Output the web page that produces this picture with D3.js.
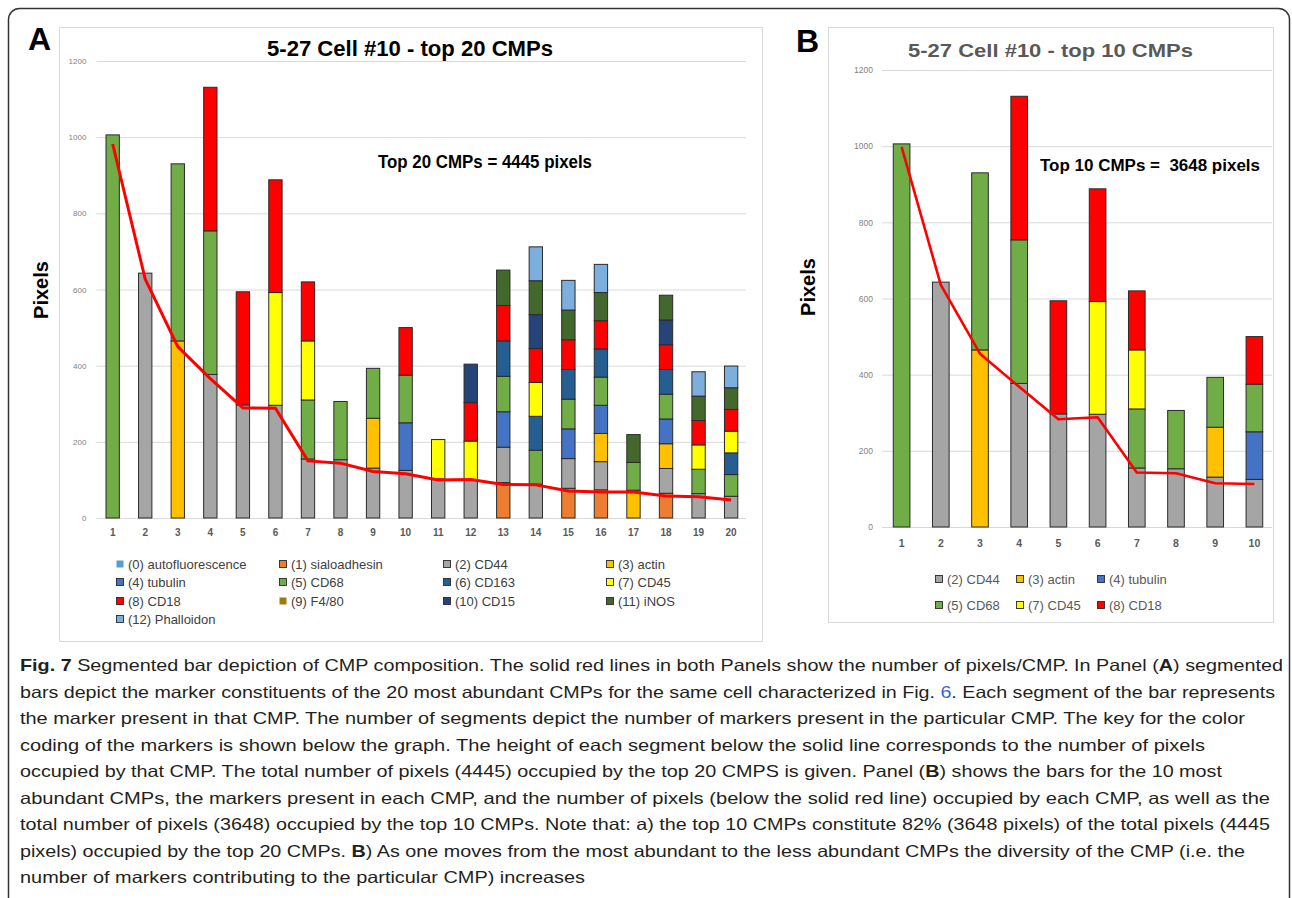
<!DOCTYPE html>
<html>
<head>
<meta charset="utf-8">
<script src="https://cdn.jsdelivr.net/npm/d3@7"></script>
<style>
  body { margin: 0; background: #fff; }
  svg { display: block; }
  .cap { font-family: "Liberation Sans Narrow", "Liberation Sans", Arial, sans-serif; font-size: 16.5px; fill: #231f20; }
</style>
</head>
<body>
<svg id="fig" width="1292" height="898"></svg>
<script>
// marker key
const markerNames = ["(0) autofluorescence", "(1) sialoadhesin", "(2) CD44", "(3) actin",
  "(4) tubulin", "(5) CD68", "(6) CD163", "(7) CD45", "(8) CD18", "(9) F4/80",
  "(10) CD15", "(11) iNOS", "(12) Phalloidon"];
const markerColors = ["#5b9bd5", "#ed7d31", "#a5a5a5", "#ffc000", "#4472c4", "#70ad47",
  "#255e91", "#ffff00", "#ff0000", "#9e7c0c", "#264478", "#43682b", "#7cafdd"];

// top 20 CMPs: pixels per CMP (segment height) and markers in each CMP
const cmpA = ["1","2","3","4","5","6","7","8","9","10","11","12","13","14","15","16","17","18","19","20"];
const pixelsA = [1006, 643, 465, 377, 297, 296, 155, 153, 131, 125, 103, 101, 93, 89, 78, 74, 73, 65, 64, 57];
const markersA = [[5], [2], [3, 5], [2, 5, 8], [2, 8], [2, 7, 8], [2, 5, 7, 8], [2, 5], [2, 3, 5], [2, 4, 5, 8],
  [2, 7], [2, 7, 8, 10], [1, 2, 4, 5, 6, 8, 11], [2, 5, 6, 7, 8, 10, 11, 12], [1, 2, 4, 5, 6, 8, 11, 12],
  [1, 2, 3, 4, 5, 6, 8, 11, 12], [3, 5, 11], [1, 2, 3, 4, 5, 6, 8, 10, 11], [2, 5, 7, 8, 11, 12], [2, 5, 6, 7, 8, 11, 12]];
const redLineA = [982, 627, 450, 366, 289, 288, 150, 144, 122, 116, 100, 101, 88, 87, 71, 68, 68, 58, 56, 47];
const legendA = [0, 1, 2, 3, 4, 5, 6, 7, 8, 9, 10, 11, 12];

// top 10 CMPs
const cmpB = ["1","2","3","4","5","6","7","8","9","10"];
const pixelsB = [1006, 643, 465, 377, 297, 296, 155, 153, 131, 125];
const markersB = [[5], [2], [3, 5], [2, 5, 8], [2, 8], [2, 7, 8], [2, 5, 7, 8], [2, 5], [2, 3, 5], [2, 4, 5, 8]];
const redLineB = [998, 636, 455, 368, 283, 288, 143, 141, 115, 113];
const legendB = [2, 3, 4, 5, 7, 8];

const yTicks = [0, 200, 400, 600, 800, 1000, 1200];

const svg = d3.select("#fig");

// outer frame
svg.append("rect")
  .attr("x", 8.5).attr("y", 8.5).attr("width", 1281).attr("height", 960)
  .attr("rx", 11).attr("fill", "none").attr("stroke", "#333").attr("stroke-width", 1.5);

function drawPanel(p) {
  const g = svg.append("g");

  g.append("rect")
    .attr("x", p.box[0] + 0.5).attr("y", p.box[1] + 0.5)
    .attr("width", p.box[2]).attr("height", p.box[3])
    .attr("fill", "#fff").attr("stroke", "#d9d9d9");

  const x = d3.scaleBand().domain(p.cats).range(p.xRange)
    .paddingInner(p.padIn).paddingOuter(p.padIn / 2);
  const y = d3.scaleLinear().domain([0, 1200]).range(p.yRange);

  // gridlines + y labels
  const yAxis = g.append("g")
    .attr("transform", `translate(${p.xRange[0]},0)`)
    .call(d3.axisLeft(y).tickValues(yTicks).tickFormat(d3.format("d"))
      .tickSize(-(p.gridEnd - p.xRange[0])).tickPadding(p.yPad));
  yAxis.select(".domain").remove();
  yAxis.selectAll("line").attr("stroke", "#d9d9d9");
  yAxis.selectAll("text")
    .attr("fill", "#7f7f7f")
    .style("font-family", "'Liberation Sans', Arial, sans-serif")
    .style("font-size", p.yFont + "px");

  // x labels
  const xAxis = g.append("g")
    .attr("transform", `translate(0,${p.yRange[0]})`)
    .call(d3.axisBottom(x).tickSize(0).tickPadding(p.xPad));
  xAxis.select(".domain").remove();
  xAxis.selectAll("text")
    .attr("fill", "#595959")
    .style("font-family", "'Liberation Sans', Arial, sans-serif")
    .style("font-weight", "bold")
    .style("font-size", p.xFont + "px");

  // stacked segments
  const segs = [];
  p.cats.forEach((c, i) => {
    p.markers[i].forEach((m, k) => {
      segs.push({ cat: c, m: m, y0: k * p.pixels[i], y1: (k + 1) * p.pixels[i] });
    });
  });
  g.append("g").selectAll("rect").data(segs).join("rect")
    .attr("x", d => x(d.cat))
    .attr("width", x.bandwidth())
    .attr("y", d => y(d.y1))
    .attr("height", d => y(d.y0) - y(d.y1))
    .attr("fill", d => markerColors[d.m])
    .attr("stroke", "#2b2b2b")
    .attr("stroke-width", 1);

  // pixels per CMP line
  const line = d3.line()
    .x((d, i) => x(p.cats[i]) + x.bandwidth() / 2)
    .y(d => y(d));
  g.append("path").datum(p.redLine)
    .attr("d", line)
    .attr("fill", "none")
    .attr("stroke", "#ff0000")
    .attr("stroke-width", p.lineW)
    .attr("stroke-linejoin", "round");

  // titles
  g.append("text")
    .attr("x", p.title.x).attr("y", p.title.y)
    .attr("textLength", p.title.w).attr("lengthAdjust", "spacingAndGlyphs")
    .style("font-family", p.title.font)
    .style("font-weight", "bold").style("font-size", p.title.size + "px")
    .attr("fill", p.title.color)
    .text(p.title.text);

  g.append("text")
    .attr("x", p.note.x).attr("y", p.note.y)
    .attr("textLength", p.note.w).attr("lengthAdjust", "spacingAndGlyphs")
    .style("font-family", p.note.font)
    .style("font-weight", "bold").style("font-size", p.note.size + "px")
    .style("white-space", "pre")
    .attr("fill", "#000")
    .text(p.note.text);

  g.append("text")
    .attr("transform", `translate(${p.yLabel[0]},${p.yLabel[1]}) rotate(-90)`)
    .attr("text-anchor", "middle")
    .style("font-family", "'Liberation Sans', Arial, sans-serif")
    .style("font-weight", "bold").style("font-size", "20px")
    .text("Pixels");

  g.append("text")
    .attr("x", p.letter[0]).attr("y", p.letter[1])
    .style("font-family", "'Liberation Sans', Arial, sans-serif")
    .style("font-weight", "bold").style("font-size", "32px")
    .text(p.letter[2]);

  // legend
  const lg = g.append("g").selectAll("g").data(p.legend).join("g")
    .attr("transform", (d, i) => `translate(${p.legCols[i % p.legCols.length]},${p.legRows[Math.floor(i / p.legCols.length)]})`);
  lg.append("rect")
    .attr("x", 0.5).attr("y", -3.5).attr("width", 7).attr("height", 7)
    .attr("fill", d => markerColors[d])
    .attr("stroke", d => (d === 0 || d === 9) ? "none" : "#2b2b2b")
    .attr("stroke-width", 0.9);
  lg.append("text")
    .attr("x", p.legText).attr("y", 0).attr("dy", "0.35em")
    .style("font-family", p.legFont)
    .style("font-size", p.legSize + "px")
    .attr("fill", p.legColor)
    .text(d => markerNames[d]);
}

drawPanel({
  box: [59, 27, 703, 614],
  cats: cmpA, pixels: pixelsA, markers: markersA, redLine: redLineA,
  xRange: [96.4, 747.4], padIn: 0.59, gridEnd: 746,
  yRange: [518, 61], yPad: 10, yFont: 8, xPad: 11, xFont: 10, lineW: 3,
  title: { text: "5-27 Cell #10 - top 20 CMPs", x: 267, y: 56, w: 286, size: 22, color: "#000",
           font: "'Liberation Sans Narrow', 'Liberation Sans', Arial, sans-serif" },
  note: { text: "Top 20 CMPs = 4445 pixels", x: 378, y: 168, w: 214, size: 17.5,
          font: "'Liberation Sans Narrow', 'Liberation Sans', Arial, sans-serif" },
  yLabel: [48, 290], letter: [28, 50, "A"],
  legend: legendA, legCols: [116, 279, 443, 606], legRows: [564, 582, 601, 619],
  legText: 12, legSize: 13, legColor: "#404040", legFont: "'Liberation Sans', Arial, sans-serif"
});

drawPanel({
  box: [828, 27, 445, 595],
  cats: cmpB, pixels: pixelsB, markers: markersB, redLine: redLineB,
  xRange: [882, 1274], padIn: 0.575, gridEnd: 1272,
  yRange: [527, 70], yPad: 9, yFont: 8.5, xPad: 13, xFont: 10.5, lineW: 2.6,
  title: { text: "5-27 Cell #10 - top 10 CMPs", x: 908, y: 57, w: 285, size: 19, color: "#595959",
           font: "'Liberation Sans', Arial, sans-serif" },
  note: { text: "Top 10 CMPs =  3648 pixels", x: 1040, y: 171, w: 220, size: 16,
          font: "'Liberation Sans', Arial, sans-serif" },
  yLabel: [815, 287], letter: [796, 52, "B"],
  legend: legendB, legCols: [935, 1016, 1097], legRows: [579, 605],
  legText: 12, legSize: 13, legColor: "#595959", legFont: "'Liberation Sans', Arial, sans-serif"
});

// caption
const captionLines = [
  [["b", "Fig. 7"], ["", " Segmented bar depiction of CMP composition. The solid red lines in both Panels show the number of pixels/CMP. In Panel ("], ["b", "A"], ["", ") segmented"]],
  [["", "bars depict the marker constituents of the 20 most abundant CMPs for the same cell characterized in Fig. "], ["l", "6"], ["", ". Each segment of the bar represents"]],
  [["", "the marker present in that CMP. The number of segments depict the number of markers present in the particular CMP. The key for the color"]],
  [["", "coding of the markers is shown below the graph. The height of each segment below the solid line corresponds to the number of pixels"]],
  [["", "occupied by that CMP. The total number of pixels (4445) occupied by the top 20 CMPS is given. Panel ("], ["b", "B"], ["", ") shows the bars for the 10 most"]],
  [["", "abundant CMPs, the markers present in each CMP, and the number of pixels (below the solid red line) occupied by each CMP, as well as the"]],
  [["", "total number of pixels (3648) occupied by the top 10 CMPs. Note that: a) the top 10 CMPs constitute 82% (3648 pixels) of the total pixels (4445"]],
  [["", "pixels) occupied by the top 20 CMPs. "], ["b", "B"], ["", ") As one moves from the most abundant to the less abundant CMPs the diversity of the CMP (i.e. the"]],
  [["", "number of markers contributing to the particular CMP) increases"]]
];
const captionEnds = [1283, 1275, 1245, 1205, 1222, 1270, 1270, 1245, 585];

const cap = svg.append("g").attr("class", "cap");
captionLines.forEach((parts, i) => {
  const t = cap.append("text")
    .attr("x", 20).attr("y", 671 + i * 26.5)
    .attr("textLength", captionEnds[i] - 20)
    .attr("lengthAdjust", "spacingAndGlyphs")
    .style("white-space", "pre");
  parts.forEach(pt => {
    t.append("tspan")
      .style("font-weight", pt[0] === "b" ? "bold" : null)
      .attr("fill", pt[0] === "l" ? "#3366cc" : null)
      .text(pt[1]);
  });
});
</script>
</body>
</html>
